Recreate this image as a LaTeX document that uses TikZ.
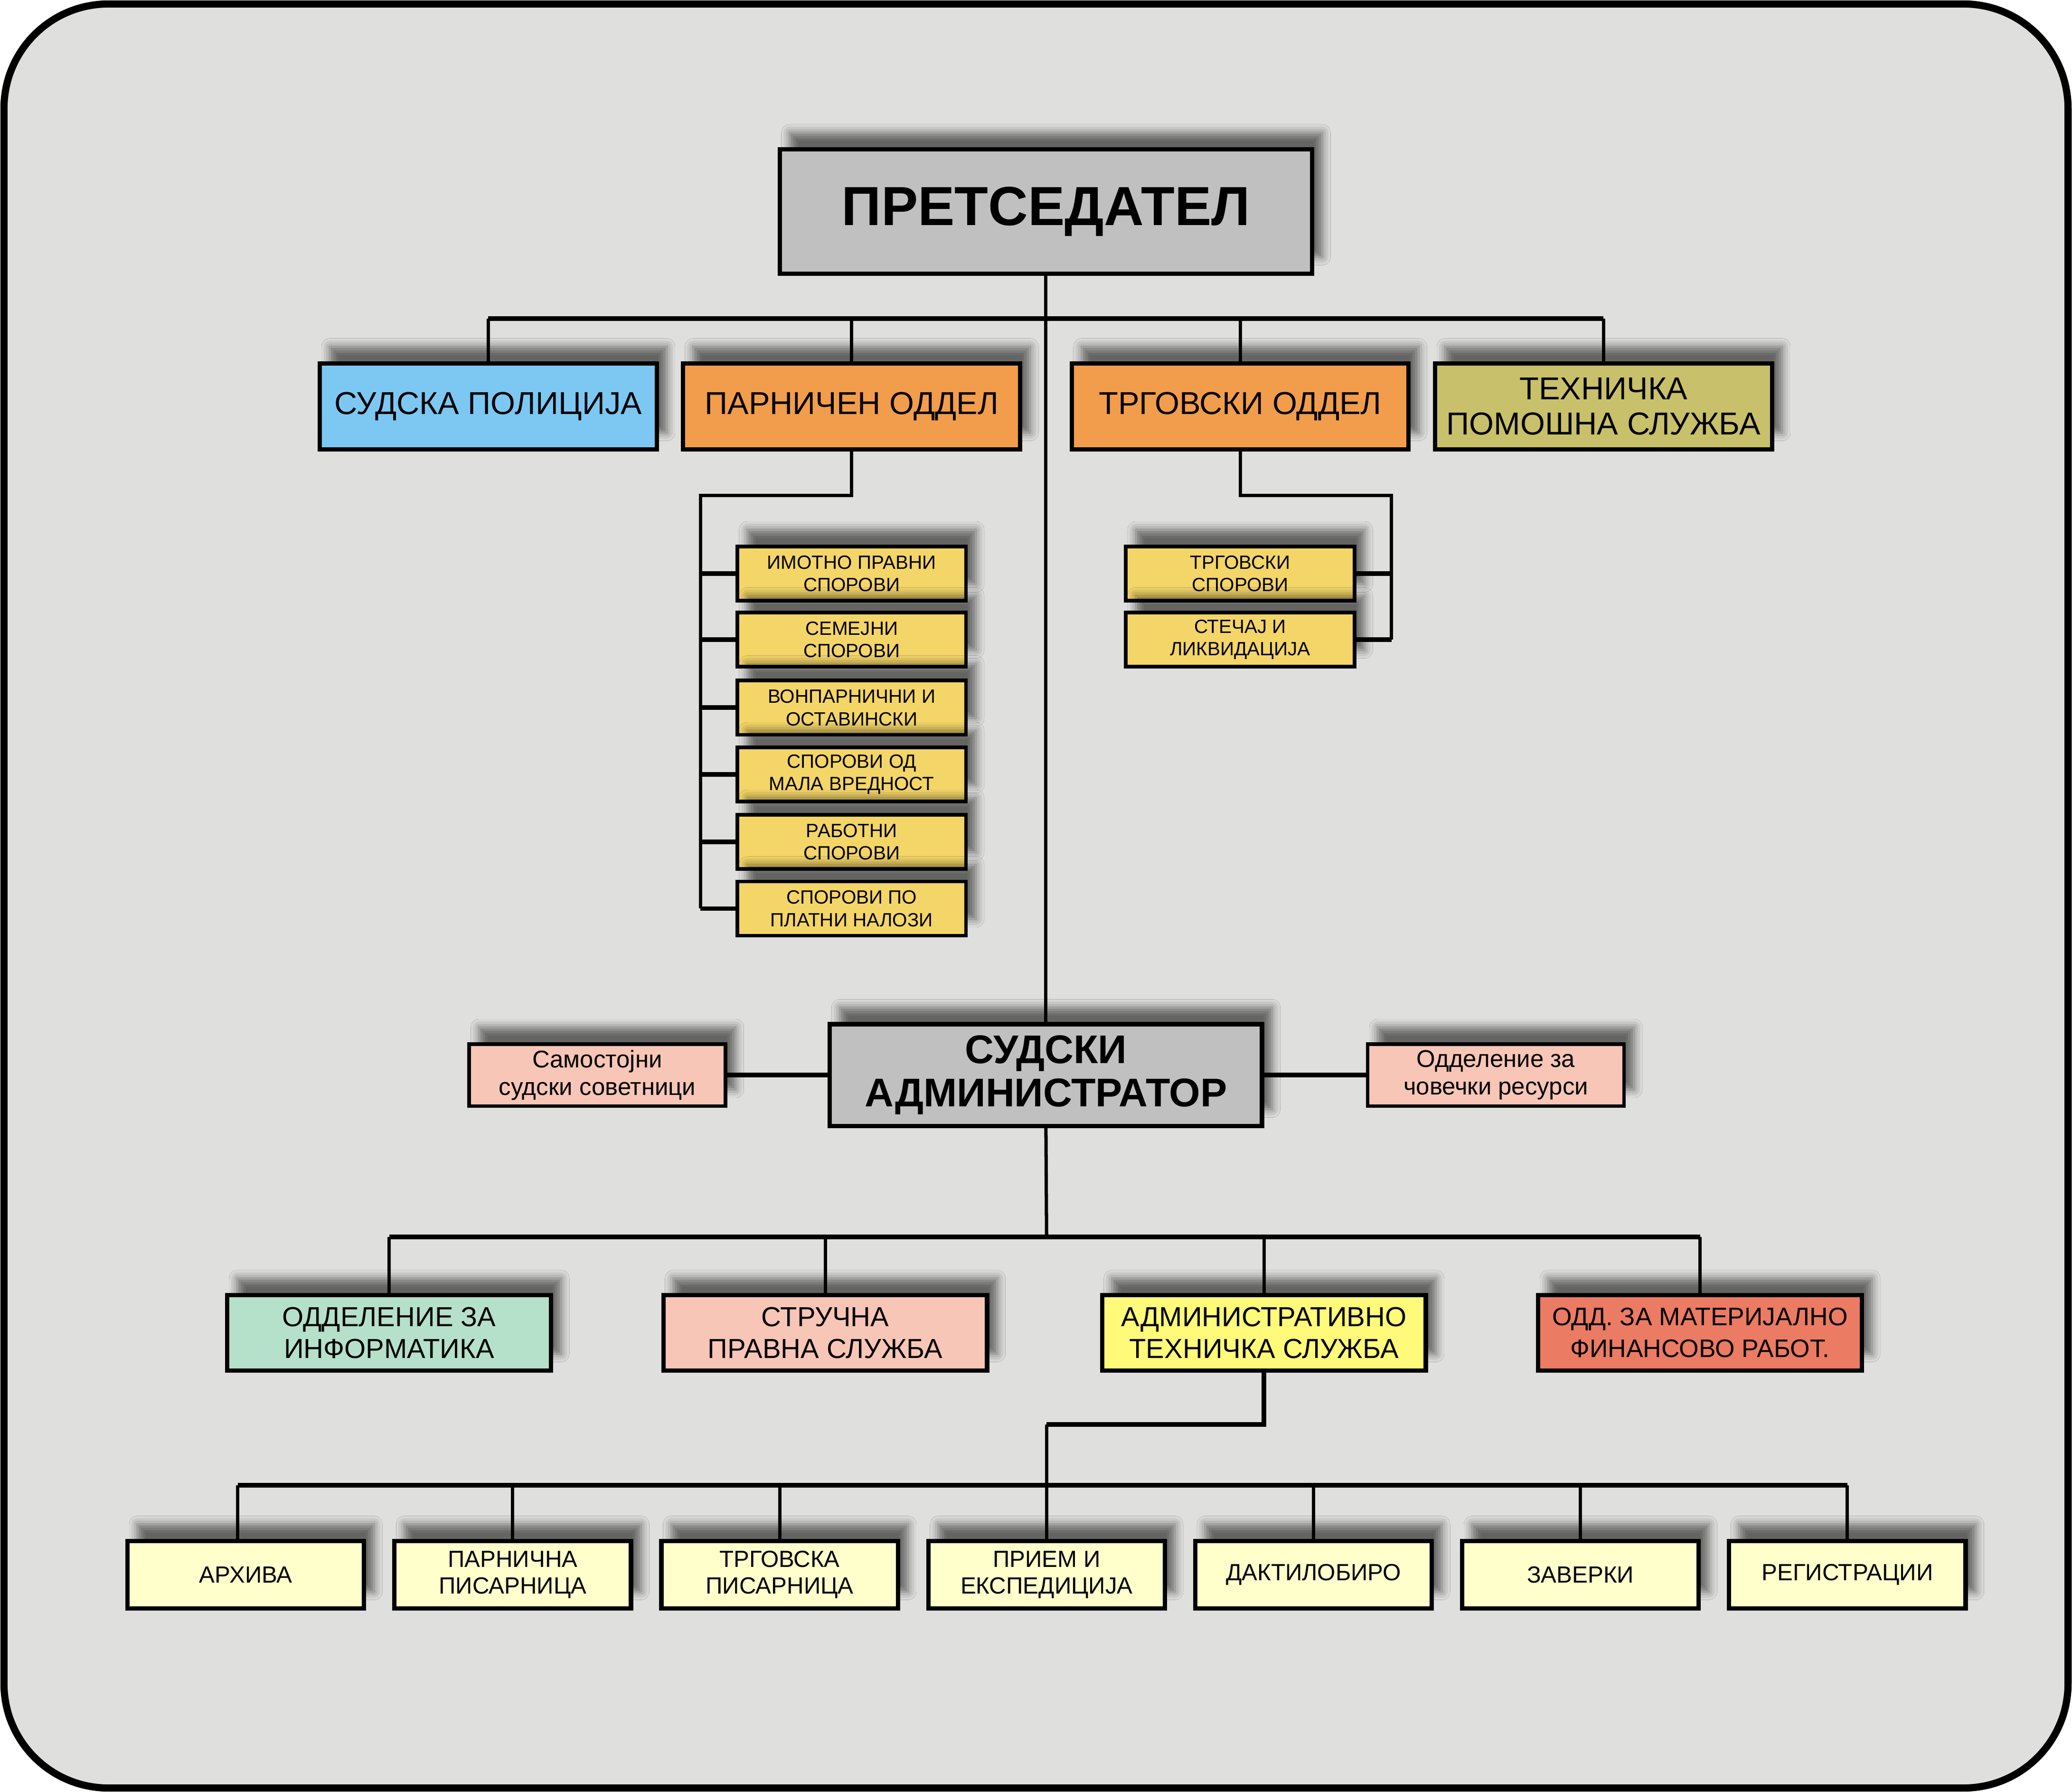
\documentclass[tikz,border=0pt]{standalone}
\usepackage{fontspec}
\setmainfont{Liberation Sans}
\usetikzlibrary{shadows.blur}

\definecolor{bggray}{RGB}{223,223,221}
\definecolor{boxgray}{RGB}{192,192,192}
\definecolor{skyblue}{RGB}{125,200,243}
\definecolor{deptorange}{RGB}{242,157,76}
\definecolor{olive}{RGB}{200,192,106}
\definecolor{goldyellow}{RGB}{243,213,104}
\definecolor{salmon}{RGB}{247,198,182}
\definecolor{mint}{RGB}{181,224,202}
\definecolor{lemon}{RGB}{255,250,122}
\definecolor{brick}{RGB}{236,123,99}
\definecolor{paleyellow}{RGB}{255,255,204}

\newlength{\dpx}\setlength{\dpx}{0.02783cm}

\tikzset{
    box/.style={draw, line width=2.6pt, align=center, inner sep=0pt,
        blur shadow={shadow xshift=6pt, shadow yshift=10pt, shadow blur radius=5pt, shadow opacity=55}},
    chief/.style={box, fill=boxgray, minimum width=403*\dpx, minimum height=94*\dpx,
        font=\fontsize{33}{37}\selectfont\bfseries},
    admbox/.style={box, fill=boxgray, minimum width=327*\dpx, minimum height=77*\dpx,
        font=\fontsize{24}{26}\selectfont\bfseries},
    dept/.style={box, minimum width=255*\dpx, minimum height=65*\dpx,
        font=\fontsize{19}{21}\selectfont},
    subbox/.style={box, fill=goldyellow, line width=2.2pt, minimum width=173*\dpx, minimum height=41*\dpx,
        font=\fontsize{11.5}{13.5}\selectfont},
    sidebox/.style={box, fill=salmon, line width=2.2pt, minimum width=194*\dpx, minimum height=47*\dpx,
        font=\fontsize{14.5}{16.6}\selectfont},
    service/.style={box, minimum width=245*\dpx, minimum height=57*\dpx,
        font=\fontsize{16.5}{19}\selectfont},
    office/.style={box, fill=paleyellow, minimum width=179*\dpx, minimum height=51*\dpx,
        font=\fontsize{14}{16}\selectfont},
    link/.style={line width=2pt},
    bus/.style={line width=2.8pt},
}

\begin{document}
\begin{tikzpicture}[x=0.02783cm, y=-0.02783cm]
    \useasboundingbox (0,0) rectangle (1568,1356);
    \fill[white] (0,0) rectangle (1568,1356);
    \draw[line width=4.3pt, fill=bggray, rounded corners=2.2cm] (3,3) rectangle (1565,1353);

    % top level
    \node[chief] (pres) at (791.5,160) {ПРЕТСЕДАТЕЛ};
    \node[dept, fill=skyblue] (police) at (369.5,307.5) {СУДСКА ПОЛИЦИЈА};
    \node[dept, fill=deptorange] (civil) at (644.5,307.5) {ПАРНИЧЕН ОДДЕЛ};
    \node[dept, fill=deptorange] (trade) at (938.5,307.5) {ТРГОВСКИ ОДДЕЛ};
    \node[dept, fill=olive] (tech) at (1213.5,307.5) {ТЕХНИЧКА\\ПОМОШНА СЛУЖБА};

    \foreach \n/\y/\txt in {cs1/434/{ИМОТНО ПРАВНИ\\СПОРОВИ}, cs2/484/{СЕМЕЈНИ\\СПОРОВИ},
        cs3/535.5/{ВОНПАРНИЧНИ И\\ОСТАВИНСКИ}, cs4/586/{СПОРОВИ ОД\\МАЛА ВРЕДНОСТ},
        cs5/637/{РАБОТНИ\\СПОРОВИ}, cs6/687.5/{СПОРОВИ ПО\\ПЛАТНИ НАЛОЗИ}}
        \node[subbox] (\n) at (644.5,\y) {\txt};
    \node[subbox] (ts1) at (938.5,434) {ТРГОВСКИ\\СПОРОВИ};
    \node[subbox] (ts2) at (938.5,484) {СТЕЧАЈ И\\ЛИКВИДАЦИЈА};

    % administrator
    \node[admbox] (admin) at (791.5,813.5) {СУДСКИ\\АДМИНИСТРАТОР};
    \node[sidebox] (advisers) at (452,813.5) {Самостојни\\судски советници};
    \node[sidebox] (hr) at (1132,813.5) {Одделение за\\човечки ресурси};

    \node[service, fill=mint] (info) at (294.5,1008.5) {ОДДЕЛЕНИЕ ЗА\\ИНФОРМАТИКА};
    \node[service, fill=salmon] (legal) at (624.5,1008.5) {СТРУЧНА\\ПРАВНА СЛУЖБА};
    \node[service, fill=lemon] (admtech) at (956.5,1008.5) {АДМИНИСТРАТИВНО\\ТЕХНИЧКА СЛУЖБА};
    \node[service, fill=brick, font=\fontsize{15.2}{19}\selectfont] (finance) at (1286.5,1008.5) {ОДД. ЗА МАТЕРИЈАЛНО\\ФИНАНСОВО РАБОТ.};

    \foreach \n/\x/\txt in {archive/186/АРХИВА, civreg/388/{ПАРНИЧНА\\ПИСАРНИЦА},
        trreg/590/{ТРГОВСКА\\ПИСАРНИЦА}, intake/792/{ПРИЕМ И\\ЕКСПЕДИЦИЈА},
        typing/994/ДАКТИЛОБИРО, certify/1196/ЗАВЕРКИ, regist/1398/РЕГИСТРАЦИИ}
        \node[office] (\n) at (\x,1191.5) {\txt};

    % connectors
    \coordinate (topbus) at (792,241);
    \coordinate (civtrunk) at (530,375);
    \coordinate (trtrunk) at (1053,375);
    \coordinate (midbus) at (792,936);
    \coordinate (jog) at (792,1078);
    \coordinate (lowbus) at (792,1124);

    \draw[link] (pres.south) -- (admin.north);
    \draw[bus] (police.north |- topbus) -- (tech.north |- topbus);
    \foreach \n in {police, civil, trade, tech}
        \draw[link] (\n.north) -- (\n.north |- topbus);

    \draw[link] (civil.south) |- (civtrunk) -- (civtrunk |- cs6.west);
    \foreach \n in {cs1, cs2, cs3, cs4, cs5, cs6}
        \draw[bus] (\n.west) -- (\n.west -| civtrunk);
    \draw[link] (trade.south) |- (trtrunk) -- (trtrunk |- ts2.east);
    \foreach \n in {ts1, ts2}
        \draw[bus] (\n.east) -- (\n.east -| trtrunk);

    \draw[bus] (advisers) -- (admin);
    \draw[bus] (admin) -- (hr);

    \draw[link] (admin.south) -- (midbus);
    \draw[bus] (info.north |- midbus) -- (finance.north |- midbus);
    \foreach \n in {info, legal, admtech, finance}
        \draw[link] (\n.north) -- (\n.north |- midbus);

    \draw[bus] (admtech.south) |- (jog);
    \draw[link] (jog) -- (intake.north);
    \draw[bus] ([xshift=-4.75pt]archive.north |- lowbus) -- (regist.north |- lowbus);
    \draw[link] ([xshift=-4.75pt]archive.north) -- ([xshift=-4.75pt]archive.north |- lowbus);
    \foreach \n in {civreg, trreg, typing, certify, regist}
        \draw[link] (\n.north) -- (\n.north |- lowbus);
\end{tikzpicture}
\end{document}
